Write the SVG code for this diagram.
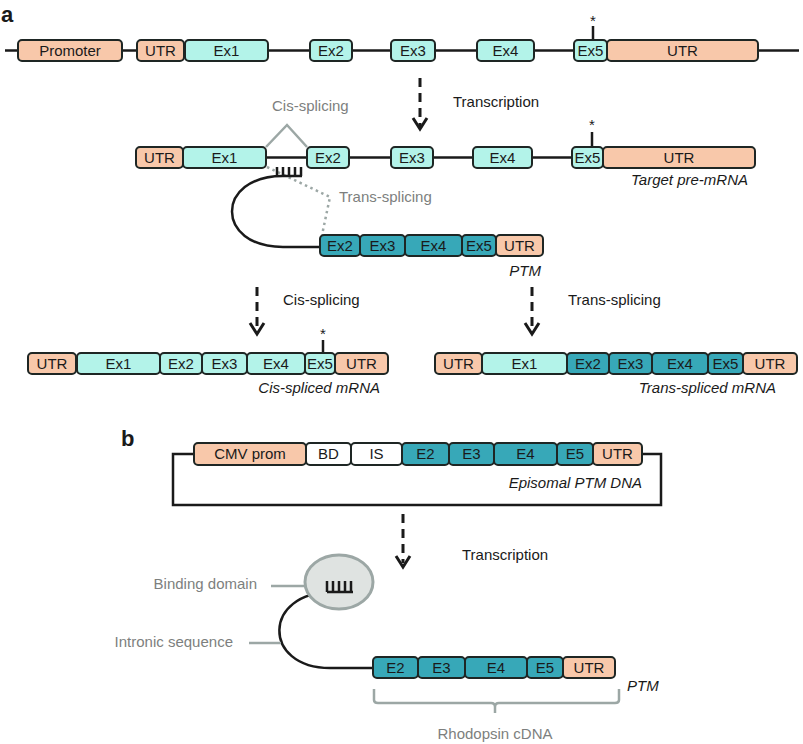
<svg xmlns="http://www.w3.org/2000/svg" width="803" height="744" viewBox="0 0 803 744">
<defs>
<style>
text{font-family:"Liberation Sans",Arial,sans-serif;font-size:15px;fill:#1a1a1a}
.b rect{stroke:#1e2624;stroke-width:2;rx:4;ry:4}
.pe rect{fill:#f8c8aa}
.lc rect{fill:#b3f3e9}
.dt rect{fill:#37a8b8}
.wh rect{fill:#ffffff}
.b text{text-anchor:middle}
.it{font-style:italic}
.gt{fill:#7d7f7e}
.ln{stroke:#1a1a1a;stroke-width:2.5;fill:none}
.gl{stroke:#9ca7a5;stroke-width:2.5;fill:none}
.da{stroke:#1a1a1a;stroke-width:3;fill:none;stroke-dasharray:9 6}
.hd{stroke:#1a1a1a;stroke-width:3;fill:none}
.lab{font-weight:bold;font-size:22px}
</style>
</defs>
<rect width="803" height="744" fill="#ffffff"/>

<g id="connectors">
  <line class="ln" x1="5" y1="50.5" x2="799" y2="50.5"/>
  <line class="ln" x1="183" y1="157.5" x2="600" y2="157.5"/>
  <line class="ln" x1="593" y1="26" x2="593" y2="40"/>
  <line class="ln" x1="592" y1="132" x2="592" y2="147"/>
  <line class="ln" x1="323" y1="340" x2="323" y2="353"/>
  <polyline class="gl" points="266,147 287,125 307,147"/>
  <polyline class="gl" stroke-dasharray="2.5 3.5" points="267,167 330,197 322,235"/>
  <path class="ln" d="M302,176 L283,176 C215,176 215,247 283,247 L320,247"/>
  <path class="ln" stroke-width="2" d="M277,167V176M283,167V176M289,167V176M295,167V176M301,167V176"/>
  <line class="da" x1="420" y1="78" x2="420" y2="126"/>
  <polyline class="hd" points="413,118 420,129 427,118"/>
  <line class="da" x1="257" y1="287" x2="257" y2="331"/>
  <polyline class="hd" points="250,323 257,334 264,323"/>
  <line class="da" x1="532" y1="287" x2="532" y2="331"/>
  <polyline class="hd" points="525,323 532,334 539,323"/>
  <line class="da" x1="403" y1="514" x2="403" y2="563"/>
  <polyline class="hd" points="396,556 403,567 410,556"/>
  <path class="ln" d="M194,454 H173 V505 H661 V454 H642"/>
  <path class="ln" d="M353,592 L333,592 C262,592 262,668 330,668 L373,668"/>
  <line class="gl" x1="271" y1="586" x2="306" y2="586"/>
  <line class="gl" x1="249" y1="643" x2="281" y2="643"/>
  <path class="gl" d="M374,689 V700 Q374,703 378,703 H491 Q495,703 495,707 V713 M495,707 Q495,703 499,703 H615 Q619,703 619,700 V689"/>
</g>

<g id="binding-ellipse">
  <ellipse cx="339" cy="582" rx="34" ry="27" fill="#dfe3e1" stroke="#9ca7a5" stroke-width="3"/>
  <path class="ln" stroke-width="2" d="M327,581V592M333,581V592M339,581V592M345,581V592M351,581V592M327,592H353"/>
</g>

<text class="lab" x="1" y="22">a</text>
<text class="lab" x="121" y="446">b</text>

<g id="g-promoter" class="b pe"><rect x="18" y="40" width="104" height="21"/><text x="70" y="56">Promoter</text></g>
<g id="g-utr5" class="b pe"><rect x="137" y="40" width="47" height="21"/><text x="160.5" y="56">UTR</text></g>
<g id="g-ex1" class="b lc"><rect x="185" y="40" width="83" height="21"/><text x="226.5" y="56">Ex1</text></g>
<g id="g-ex2" class="b lc"><rect x="310" y="40" width="42" height="21"/><text x="331" y="56">Ex2</text></g>
<g id="g-ex3" class="b lc"><rect x="391" y="40" width="44" height="21"/><text x="413" y="56">Ex3</text></g>
<g id="g-ex4" class="b lc"><rect x="477" y="40" width="57" height="21"/><text x="505.5" y="56">Ex4</text></g>
<g id="g-ex5" class="b lc"><rect x="574" y="40" width="33" height="21"/><text x="590.5" y="56">Ex5</text></g>
<g id="g-utr3" class="b pe"><rect x="607" y="40" width="151" height="21"/><text x="682.5" y="56">UTR</text></g>
<text x="593" y="26" text-anchor="middle" font-size="14">*</text>

<text x="453" y="107">Transcription</text>
<text class="gt" x="272" y="111">Cis-splicing</text>
<text class="gt" x="339" y="202">Trans-splicing</text>

<g id="p-utr5" class="b pe"><rect x="136" y="147" width="47" height="21"/><text x="159.5" y="163">UTR</text></g>
<g id="p-ex1" class="b lc"><rect x="183" y="147" width="83" height="21"/><text x="224.5" y="163">Ex1</text></g>
<g id="p-ex2" class="b lc"><rect x="307" y="147" width="42" height="21"/><text x="328" y="163">Ex2</text></g>
<g id="p-ex3" class="b lc"><rect x="391" y="147" width="42" height="21"/><text x="412" y="163">Ex3</text></g>
<g id="p-ex4" class="b lc"><rect x="473" y="147" width="59" height="21"/><text x="502.5" y="163">Ex4</text></g>
<g id="p-ex5" class="b lc"><rect x="572" y="147" width="31" height="21"/><text x="587.5" y="163">Ex5</text></g>
<g id="p-utr3" class="b pe"><rect x="603" y="147" width="152" height="21"/><text x="679" y="163">UTR</text></g>
<text x="592" y="130" text-anchor="middle" font-size="14">*</text>
<text class="it" x="748" y="185" text-anchor="end">Target pre-mRNA</text>

<g id="t-ex2" class="b dt"><rect x="320" y="235" width="40" height="21"/><text x="340" y="251">Ex2</text></g>
<g id="t-ex3" class="b dt"><rect x="360" y="235" width="45" height="21"/><text x="382.5" y="251">Ex3</text></g>
<g id="t-ex4" class="b dt"><rect x="405" y="235" width="57" height="21"/><text x="433.5" y="251">Ex4</text></g>
<g id="t-ex5" class="b dt"><rect x="462" y="235" width="34" height="21"/><text x="479" y="251">Ex5</text></g>
<g id="t-utr" class="b pe"><rect x="496" y="235" width="47" height="21"/><text x="519.5" y="251">UTR</text></g>
<text class="it" x="541" y="276" text-anchor="end">PTM</text>

<text x="283" y="305">Cis-splicing</text>
<text x="568" y="305">Trans-splicing</text>

<g id="c-utr5" class="b pe"><rect x="28" y="353" width="48" height="21"/><text x="52" y="369">UTR</text></g>
<g id="c-ex1" class="b lc"><rect x="77" y="353" width="83" height="21"/><text x="118.5" y="369">Ex1</text></g>
<g id="c-ex2" class="b lc"><rect x="160" y="353" width="42" height="21"/><text x="181" y="369">Ex2</text></g>
<g id="c-ex3" class="b lc"><rect x="202" y="353" width="45" height="21"/><text x="224.5" y="369">Ex3</text></g>
<g id="c-ex4" class="b lc"><rect x="247" y="353" width="58" height="21"/><text x="276" y="369">Ex4</text></g>
<g id="c-ex5" class="b lc"><rect x="305" y="353" width="30" height="21"/><text x="320" y="369">Ex5</text></g>
<g id="c-utr3" class="b pe"><rect x="335" y="353" width="53" height="21"/><text x="361.5" y="369">UTR</text></g>
<text x="323" y="339" text-anchor="middle" font-size="14">*</text>
<text class="it" x="380" y="393" text-anchor="end">Cis-spliced mRNA</text>

<g id="s-utr5" class="b pe"><rect x="435" y="353" width="47" height="21"/><text x="458.5" y="369">UTR</text></g>
<g id="s-ex1" class="b lc"><rect x="482" y="353" width="85" height="21"/><text x="524.5" y="369">Ex1</text></g>
<g id="s-ex2" class="b dt"><rect x="567" y="353" width="42" height="21"/><text x="588" y="369">Ex2</text></g>
<g id="s-ex3" class="b dt"><rect x="609" y="353" width="43" height="21"/><text x="630.5" y="369">Ex3</text></g>
<g id="s-ex4" class="b dt"><rect x="652" y="353" width="56" height="21"/><text x="680" y="369">Ex4</text></g>
<g id="s-ex5" class="b dt"><rect x="708" y="353" width="35" height="21"/><text x="725.5" y="369">Ex5</text></g>
<g id="s-utr3" class="b pe"><rect x="743" y="353" width="54" height="21"/><text x="770" y="369">UTR</text></g>
<text class="it" x="776" y="393" text-anchor="end">Trans-spliced mRNA</text>

<g id="e-cmv" class="b pe"><rect x="194" y="443" width="112" height="22"/><text x="250" y="459">CMV prom</text></g>
<g id="e-bd" class="b wh"><rect x="306" y="443" width="45" height="22"/><text x="328.5" y="459">BD</text></g>
<g id="e-is" class="b wh"><rect x="351" y="443" width="51" height="22"/><text x="376.5" y="459">IS</text></g>
<g id="e-e2" class="b dt"><rect x="402" y="443" width="47" height="22"/><text x="425.5" y="459">E2</text></g>
<g id="e-e3" class="b dt"><rect x="449" y="443" width="45" height="22"/><text x="471.5" y="459">E3</text></g>
<g id="e-e4" class="b dt"><rect x="494" y="443" width="63" height="22"/><text x="525.5" y="459">E4</text></g>
<g id="e-e5" class="b dt"><rect x="557" y="443" width="36" height="22"/><text x="575" y="459">E5</text></g>
<g id="e-utr" class="b pe"><rect x="593" y="443" width="49" height="22"/><text x="617.5" y="459">UTR</text></g>
<text class="it" x="642" y="488" text-anchor="end">Episomal PTM DNA</text>

<text x="462" y="560">Transcription</text>
<text class="gt" x="257" y="589" text-anchor="end">Binding domain</text>
<text class="gt" x="233" y="647" text-anchor="end">Intronic sequence</text>

<g id="m-e2" class="b dt"><rect x="373" y="657" width="45" height="21"/><text x="395.5" y="673">E2</text></g>
<g id="m-e3" class="b dt"><rect x="418" y="657" width="47" height="21"/><text x="441.5" y="673">E3</text></g>
<g id="m-e4" class="b dt"><rect x="465" y="657" width="62" height="21"/><text x="496" y="673">E4</text></g>
<g id="m-e5" class="b dt"><rect x="527" y="657" width="36" height="21"/><text x="545" y="673">E5</text></g>
<g id="m-utr" class="b pe"><rect x="563" y="657" width="52" height="21"/><text x="589" y="673">UTR</text></g>
<text class="it" x="627" y="691">PTM</text>
<text class="gt" x="495" y="739" text-anchor="middle">Rhodopsin cDNA</text>
</svg>
